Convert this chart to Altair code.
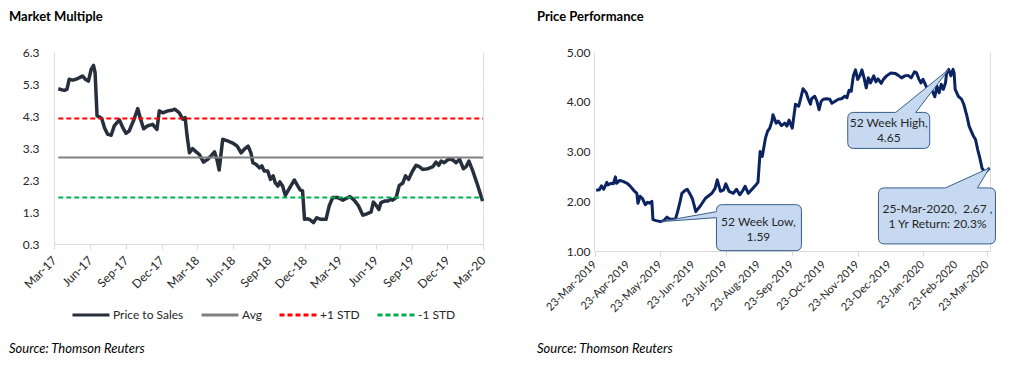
import altair as alt
import pandas as pd

FONT = "Lato"
TEXT_COLOR = "#262626"
PLOT_BG = "#f2f2f2"
AXIS_GRAY = "#d9d9d9"

left_title = "Market Multiple"
right_title = "Price Performance"
source_text = "Source: Thomson Reuters"

# ---------------- Left panel: Price to Sales multiple ----------------
ps_dates = [
    "2017-03-12", "2017-03-27", "2017-04-03", "2017-04-09", "2017-04-18", "2017-05-01", "2017-05-13", "2017-05-20", "2017-05-28", "2017-06-04",
    "2017-06-10", "2017-06-14", "2017-06-19", "2017-06-25", "2017-07-01", "2017-07-08", "2017-07-16", "2017-07-25", "2017-08-02", "2017-08-15",
    "2017-08-24", "2017-09-01", "2017-09-09", "2017-09-21", "2017-10-01", "2017-10-07", "2017-10-16", "2017-10-26", "2017-11-08", "2017-11-19",
    "2017-11-25", "2017-12-04", "2017-12-17", "2017-12-27", "2018-01-04", "2018-01-15", "2018-01-24", "2018-01-30", "2018-02-04", "2018-02-10",
    "2018-02-18", "2018-02-27", "2018-03-07", "2018-03-18", "2018-03-29", "2018-04-06", "2018-04-15", "2018-04-21", "2018-04-27", "2018-05-02",
    "2018-05-06", "2018-05-19", "2018-06-01", "2018-06-12", "2018-06-22", "2018-06-30", "2018-07-10", "2018-07-17", "2018-07-22", "2018-07-30",
    "2018-08-08", "2018-08-14", "2018-08-20", "2018-08-29", "2018-09-05", "2018-09-12", "2018-09-17", "2018-09-24", "2018-09-29", "2018-10-06",
    "2018-10-13", "2018-10-22", "2018-11-05", "2018-11-14", "2018-11-20", "2018-11-26", "2018-12-01", "2018-12-09", "2018-12-16", "2018-12-24",
    "2019-01-01", "2019-01-12", "2019-01-25", "2019-02-02", "2019-02-11", "2019-02-24", "2019-03-09", "2019-03-17", "2019-03-27", "2019-04-07",
    "2019-04-18", "2019-04-29", "2019-05-07", "2019-05-20", "2019-05-26", "2019-05-31", "2019-06-09", "2019-06-14", "2019-06-23", "2019-07-02",
    "2019-07-10", "2019-07-14", "2019-07-23", "2019-07-31", "2019-08-09", "2019-08-16", "2019-08-24", "2019-09-03", "2019-09-12", "2019-09-20",
    "2019-09-29", "2019-10-12", "2019-10-25", "2019-11-02", "2019-11-09", "2019-11-15", "2019-11-23", "2019-12-04", "2019-12-15", "2019-12-23",
    "2020-01-01", "2020-01-11", "2020-01-18", "2020-01-25", "2020-02-04", "2020-02-17", "2020-02-29",
]
ps_values = [
    5.15, 5.10, 5.13, 5.45, 5.42, 5.47, 5.55, 5.45, 5.39, 5.76,
    5.88, 5.65, 4.30, 4.27, 4.22, 3.93, 3.73, 3.70, 3.99, 4.18,
    3.93, 3.76, 3.83, 4.18, 4.53, 4.25, 3.90, 3.99, 4.04, 3.88,
    4.46, 4.40, 4.46, 4.48, 4.51, 4.40, 4.20, 4.25, 3.68, 3.15,
    3.28, 3.18, 3.10, 2.86, 2.95, 3.05, 3.18, 2.95, 2.61, 3.15,
    3.57, 3.52, 3.45, 3.36, 3.15, 3.26, 3.36, 3.15, 2.84, 2.79,
    2.68, 2.74, 2.58, 2.58, 2.32, 2.43, 2.22, 2.11, 2.24, 2.11,
    1.82, 2.01, 2.30, 2.11, 1.99, 1.96, 1.07, 1.09, 1.05, 0.97,
    1.12, 1.07, 1.07, 1.49, 1.75, 1.75, 1.67, 1.72, 1.78, 1.67,
    1.49, 1.20, 1.23, 1.30, 1.61, 1.54, 1.38, 1.59, 1.64, 1.64,
    1.70, 1.67, 1.75, 2.13, 2.20, 2.43, 2.32, 2.58, 2.76, 2.72,
    2.63, 2.65, 2.72, 2.86, 2.76, 2.89, 2.84, 2.95, 2.93, 2.84,
    2.95, 2.65, 2.72, 2.89, 2.58, 2.11, 1.64,
]
avg_value = 3.00
plus_std_value = 4.22
minus_std_value = 1.75

left_domain = ["2017-03-01", "2020-03-01"]
left_tick_dates = ["2017-03-01", "2017-06-01", "2017-09-01", "2017-12-01", "2018-03-01", "2018-06-01", "2018-09-01",
                   "2018-12-01", "2019-03-01", "2019-06-01", "2019-09-01", "2019-12-01", "2020-03-01"]
left_y_ticks = [0.3, 1.3, 2.3, 3.3, 4.3, 5.3, 6.3]

series_names = ["Price to Sales", "Avg", "+1 STD", "-1 STD"]
series_colors = ["#262f3b", "#808080", "#ff0000", "#00b050"]
series_dashes = [[1, 0], [1, 0], [5, 3], [5, 3]]

# ---------------- Right panel: share price ----------------
px_dates = [
    "2019-03-24", "2019-03-27", "2019-03-29", "2019-03-31", "2019-04-03", "2019-04-04", "2019-04-07", "2019-04-09", "2019-04-11", "2019-04-12",
    "2019-04-15", "2019-04-18", "2019-04-22", "2019-04-25", "2019-04-28", "2019-05-01", "2019-05-02", "2019-05-04", "2019-05-06", "2019-05-09",
    "2019-05-11", "2019-05-13", "2019-05-15", "2019-05-16", "2019-05-19", "2019-05-23", "2019-05-26", "2019-05-29", "2019-06-01", "2019-06-06",
    "2019-06-08", "2019-06-10", "2019-06-12", "2019-06-15", "2019-06-17", "2019-06-20", "2019-06-22", "2019-06-25", "2019-06-29", "2019-07-04",
    "2019-07-07", "2019-07-10", "2019-07-13", "2019-07-15", "2019-07-18", "2019-07-21", "2019-07-23", "2019-07-26", "2019-07-30", "2019-08-02",
    "2019-08-05", "2019-08-08", "2019-08-10", "2019-08-13", "2019-08-16", "2019-08-19", "2019-08-22", "2019-08-24", "2019-08-26", "2019-08-29",
    "2019-08-31", "2019-09-02", "2019-09-04", "2019-09-05", "2019-09-08", "2019-09-10", "2019-09-13", "2019-09-16", "2019-09-18", "2019-09-20",
    "2019-09-23", "2019-09-26", "2019-09-29", "2019-10-01", "2019-10-03", "2019-10-06", "2019-10-08", "2019-10-10", "2019-10-11", "2019-10-14",
    "2019-10-16", "2019-10-18", "2019-10-20", "2019-10-22", "2019-10-25", "2019-10-28", "2019-10-30", "2019-11-02", "2019-11-05", "2019-11-08",
    "2019-11-11", "2019-11-13", "2019-11-15", "2019-11-17", "2019-11-19", "2019-11-21", "2019-11-23", "2019-11-25", "2019-11-27", "2019-11-29",
    "2019-12-01", "2019-12-03", "2019-12-05", "2019-12-08", "2019-12-10", "2019-12-12", "2019-12-15", "2019-12-17", "2019-12-20", "2019-12-24",
    "2019-12-28", "2019-12-31", "2020-01-03", "2020-01-06", "2020-01-09", "2020-01-12", "2020-01-15", "2020-01-17", "2020-01-19", "2020-01-21",
    "2020-01-23", "2020-01-26", "2020-01-28", "2020-01-31", "2020-02-03", "2020-02-05", "2020-02-07", "2020-02-09", "2020-02-11", "2020-02-13",
    "2020-02-14", "2020-02-16", "2020-02-18", "2020-02-20", "2020-02-21", "2020-02-22", "2020-02-25", "2020-02-28", "2020-03-01", "2020-03-04",
    "2020-03-06", "2020-03-08", "2020-03-10", "2020-03-12", "2020-03-14", "2020-03-16", "2020-03-18", "2020-03-20", "2020-03-22", "2020-03-25",
]
px_values = [
    2.22, 2.23, 2.31, 2.24, 2.38, 2.33, 2.36, 2.35, 2.49, 2.36,
    2.42, 2.40, 2.36, 2.30, 2.22, 2.16, 1.96, 2.10, 2.06, 1.93,
    1.98, 1.96, 2.00, 1.63, 1.61, 1.59, 1.61, 1.68, 1.64, 1.64,
    1.79, 1.96, 2.16, 2.22, 2.24, 2.13, 2.04, 1.79, 1.90, 2.06,
    2.11, 2.16, 2.26, 2.43, 2.20, 2.23, 2.35, 2.20, 2.16, 2.24,
    2.13, 2.22, 2.30, 2.16, 2.23, 2.30, 2.38, 3.00, 2.90, 3.27,
    3.41, 3.47, 3.61, 3.74, 3.57, 3.61, 3.52, 3.57, 3.51, 3.63,
    3.47, 3.95, 3.91, 4.08, 4.26, 4.18, 4.05, 3.95, 4.06, 4.11,
    4.01, 3.84, 4.01, 4.05, 4.06, 4.05, 3.97, 4.01, 4.05, 4.06,
    4.11, 4.08, 4.23, 4.21, 4.52, 4.64, 4.45, 4.52, 4.64, 4.48,
    4.28, 4.48, 4.38, 4.52, 4.40, 4.46, 4.37, 4.45, 4.52, 4.58,
    4.57, 4.53, 4.48, 4.52, 4.53, 4.48, 4.60, 4.58, 4.46, 4.38,
    4.45, 4.31, 4.21, 4.25, 4.10, 4.31, 4.18, 4.35, 4.25, 4.38,
    4.58, 4.65, 4.52, 4.65, 4.58, 4.25, 4.11, 4.05, 3.95, 3.71,
    3.51, 3.41, 3.31, 3.24, 3.04, 2.87, 2.67, 2.60, 2.60, 2.67,
]
right_domain = ["2019-03-22T00:00:00", "2020-03-25T12:00:00"]
right_tick_dates = ["2019-03-23", "2019-04-23", "2019-05-23", "2019-06-23", "2019-07-23", "2019-08-23", "2019-09-23",
                    "2019-10-23", "2019-11-23", "2019-12-23", "2020-01-23", "2020-02-23", "2020-03-23"]
right_y_ticks = [1.0, 1.5, 2.0, 2.5, 3.0, 3.5, 4.0, 4.5, 5.0]

LEFT_W, LEFT_H = 429, 192
RIGHT_W, RIGHT_H = 396, 199


def dt(s):
    t = pd.Timestamp(s)
    return alt.DateTime(year=t.year, month=t.month, date=t.day, hours=t.hour)


def text_layer(text, x, y, weight="normal", style="normal"):
    return alt.Chart(pd.DataFrame({"t": [text]})).mark_text(
        align="left", baseline="alphabetic", font=FONT, fontSize=13,
        fontWeight=weight, fontStyle=style, color="black",
    ).encode(text="t:N", x=alt.value(x), y=alt.value(y))


label_style = dict(labelFont=FONT, labelColor=TEXT_COLOR)

# ---- left data ----
ps = pd.DataFrame({"date": pd.to_datetime(ps_dates), "value": ps_values})
ps["series"] = "Price to Sales"
band_start = ps["date"].iloc[0]
band_end = pd.Timestamp(left_domain[1])
bands = pd.DataFrame({
    "date": [band_start, band_end] * 3,
    "value": [avg_value] * 2 + [plus_std_value] * 2 + [minus_std_value] * 2,
    "series": ["Avg"] * 2 + ["+1 STD"] * 2 + ["-1 STD"] * 2,
})
left_df = pd.concat([ps, bands], ignore_index=True)

legend = alt.Legend(
    title=None, orient="none", legendX=17, legendY=243, direction="horizontal",
    symbolType="stroke", symbolSize=1369, symbolStrokeWidth=3,
    labelFont=FONT, labelFontSize=12, labelColor=TEXT_COLOR, labelOffset=2,
    columnPadding=11, padding=0, labelLimit=300,
)

left_lines = alt.Chart(left_df).mark_line(strokeJoin="round", strokeCap="butt").encode(
    x=alt.X("date:T", title=None,
            scale=alt.Scale(domain=[dt(d) for d in left_domain]),
            axis=alt.Axis(values=[dt(d) for d in left_tick_dates], format="%b-%y", labelAngle=-45,
                          labelAlign="right", labelBaseline="middle", labelPadding=9, labelFlush=False,
                          labelOverlap=False, grid=False, domainColor=AXIS_GRAY,
                          tickColor=AXIS_GRAY, tickSize=5, labelFontSize=12, **label_style)),
    y=alt.Y("value:Q", title=None,
            scale=alt.Scale(domain=[left_y_ticks[0], left_y_ticks[-1]], nice=False, zero=False),
            axis=alt.Axis(values=left_y_ticks, format=".1f", domain=False, ticks=False, tickSize=0,
                          labelPadding=15, gridColor="white", gridWidth=1.2, labelFontSize=12, **label_style)),
    color=alt.Color("series:N", scale=alt.Scale(domain=series_names, range=series_colors), legend=legend),
    strokeDash=alt.StrokeDash("series:N", scale=alt.Scale(domain=series_names, range=series_dashes), legend=legend),
    strokeWidth=alt.condition(alt.datum.series == "Price to Sales", alt.value(3.5), alt.value(2)),
)

left = alt.layer(
    left_lines,
    text_layer(left_title, -45, -31, weight="bold"),
    text_layer(source_text, -45, 301, style="italic"),
).properties(width=LEFT_W, height=LEFT_H)

# ---- right data ----
px = pd.DataFrame({"date": pd.to_datetime(px_dates), "value": px_values})
lo = px.loc[px["value"].idxmin()]
hi = px.loc[px["value"].idxmax()]
la = px.iloc[-1]
one_year_return = la["value"] / px["value"].iloc[0] - 1
callouts = pd.DataFrame({
    "kind": ["low", "high", "last"],
    "date": [lo["date"], hi["date"], la["date"]],
    "value": [lo["value"], hi["value"], la["value"]],
    "label": [
        f"52 Week Low,\n{lo['value']:.2f}",
        f"52 Week High,\n{hi['value']:.2f}",
        f"{la['date']:%d-%b-%Y},\u00a0 {la['value']:.2f} ,\n1 Yr Return: {one_year_return:.1%}",
    ],
})

# callout outlines in pixels, relative to the pointed data point (styling only)
callout_style = {
    "low": dict(path="M0,0 L56,-4 L56,23 Q56,29 62,29 L135,29 Q141,29 141,23 L141,-11 Q141,-17 135,-17 "
                     "L62,-17 Q56,-17 56,-11 L56,-10 Z", dx=98, dy=0),
    "high": dict(path="M0,0 L-33,43 L-25,43 Q-19,43 -19,49 L-19,73 Q-19,79 -25,79 L-95,79 Q-101,79 -101,73 "
                      "L-101,49 Q-101,43 -95,43 L-53,43 Z", dx=-60, dy=54),
    "last": dict(path="M0,0 L-12,20 L0,20 Q6,20 6,26 L6,70 Q6,76 0,76 L-105,76 Q-111,76 -111,70 L-111,26 "
                      "Q-111,20 -105,20 L-44,20 Z", dx=-52, dy=41),
}

right_x_scale = alt.Scale(domain=[dt(d) for d in right_domain])
x_right = alt.X("date:T", title=None, scale=right_x_scale,
                axis=alt.Axis(values=[dt(d) for d in right_tick_dates], labels=False, grid=False,
                              domainColor=AXIS_GRAY, tickColor=AXIS_GRAY, tickSize=5))
y_right = alt.Y("value:Q", title=None,
                scale=alt.Scale(domain=[right_y_ticks[0], right_y_ticks[-1]], nice=False, zero=False),
                axis=alt.Axis(values=right_y_ticks, format=".2f", domain=False, ticks=False, tickSize=0,
                              labelPadding=4, gridColor="white", gridWidth=1.2, labelFontSize=12, **label_style))

right_line = alt.Chart(px).mark_line(color="#0b2461", strokeWidth=3, strokeJoin="round").encode(x=x_right, y=y_right)

# rotated tick labels for the daily date axis, drawn from the tick list
right_ticks_df = pd.DataFrame({"date": pd.to_datetime(right_tick_dates)})
right_tick_labels = alt.Chart(right_ticks_df).mark_text(
    angle=315, align="right", baseline="middle", font=FONT, fontSize=11, color=TEXT_COLOR,
).encode(
    x=alt.X("date:T", scale=right_x_scale),
    y=alt.value(RIGHT_H + 12),
    text=alt.Text("date:T", format="%d-%b-%Y"),
)

callout_layers = []
for kind, st in callout_style.items():
    base = alt.Chart(callouts).transform_filter(alt.datum.kind == kind)
    callout_layers.append(
        base.mark_point(shape=st["path"], size=4, filled=True, fill="#c6d9f1", stroke="#385d8a",
                        strokeWidth=1, opacity=1, fillOpacity=1).encode(x="date:T", y="value:Q")
    )
    callout_layers.append(
        base.mark_text(dx=st["dx"], dy=st["dy"], align="center", baseline="middle", lineBreak="\n",
                       lineHeight=15, font=FONT, fontSize=12, color=TEXT_COLOR).encode(
            x="date:T", y="value:Q", text="label:N")
    )

right = alt.layer(
    right_line,
    right_tick_labels,
    *callout_layers,
    text_layer(right_title, -57, -31, weight="bold"),
    text_layer(source_text, -57, 301, style="italic"),
).properties(width=RIGHT_W, height=RIGHT_H)

chart = alt.hconcat(left, right, spacing=48).properties(
    padding={"left": 0, "top": 2, "right": 0, "bottom": 0}
).configure_view(fill=PLOT_BG, stroke=None).configure(background="white")

chart.save("out.html", embed_options={"renderer": "svg", "actions": False})
